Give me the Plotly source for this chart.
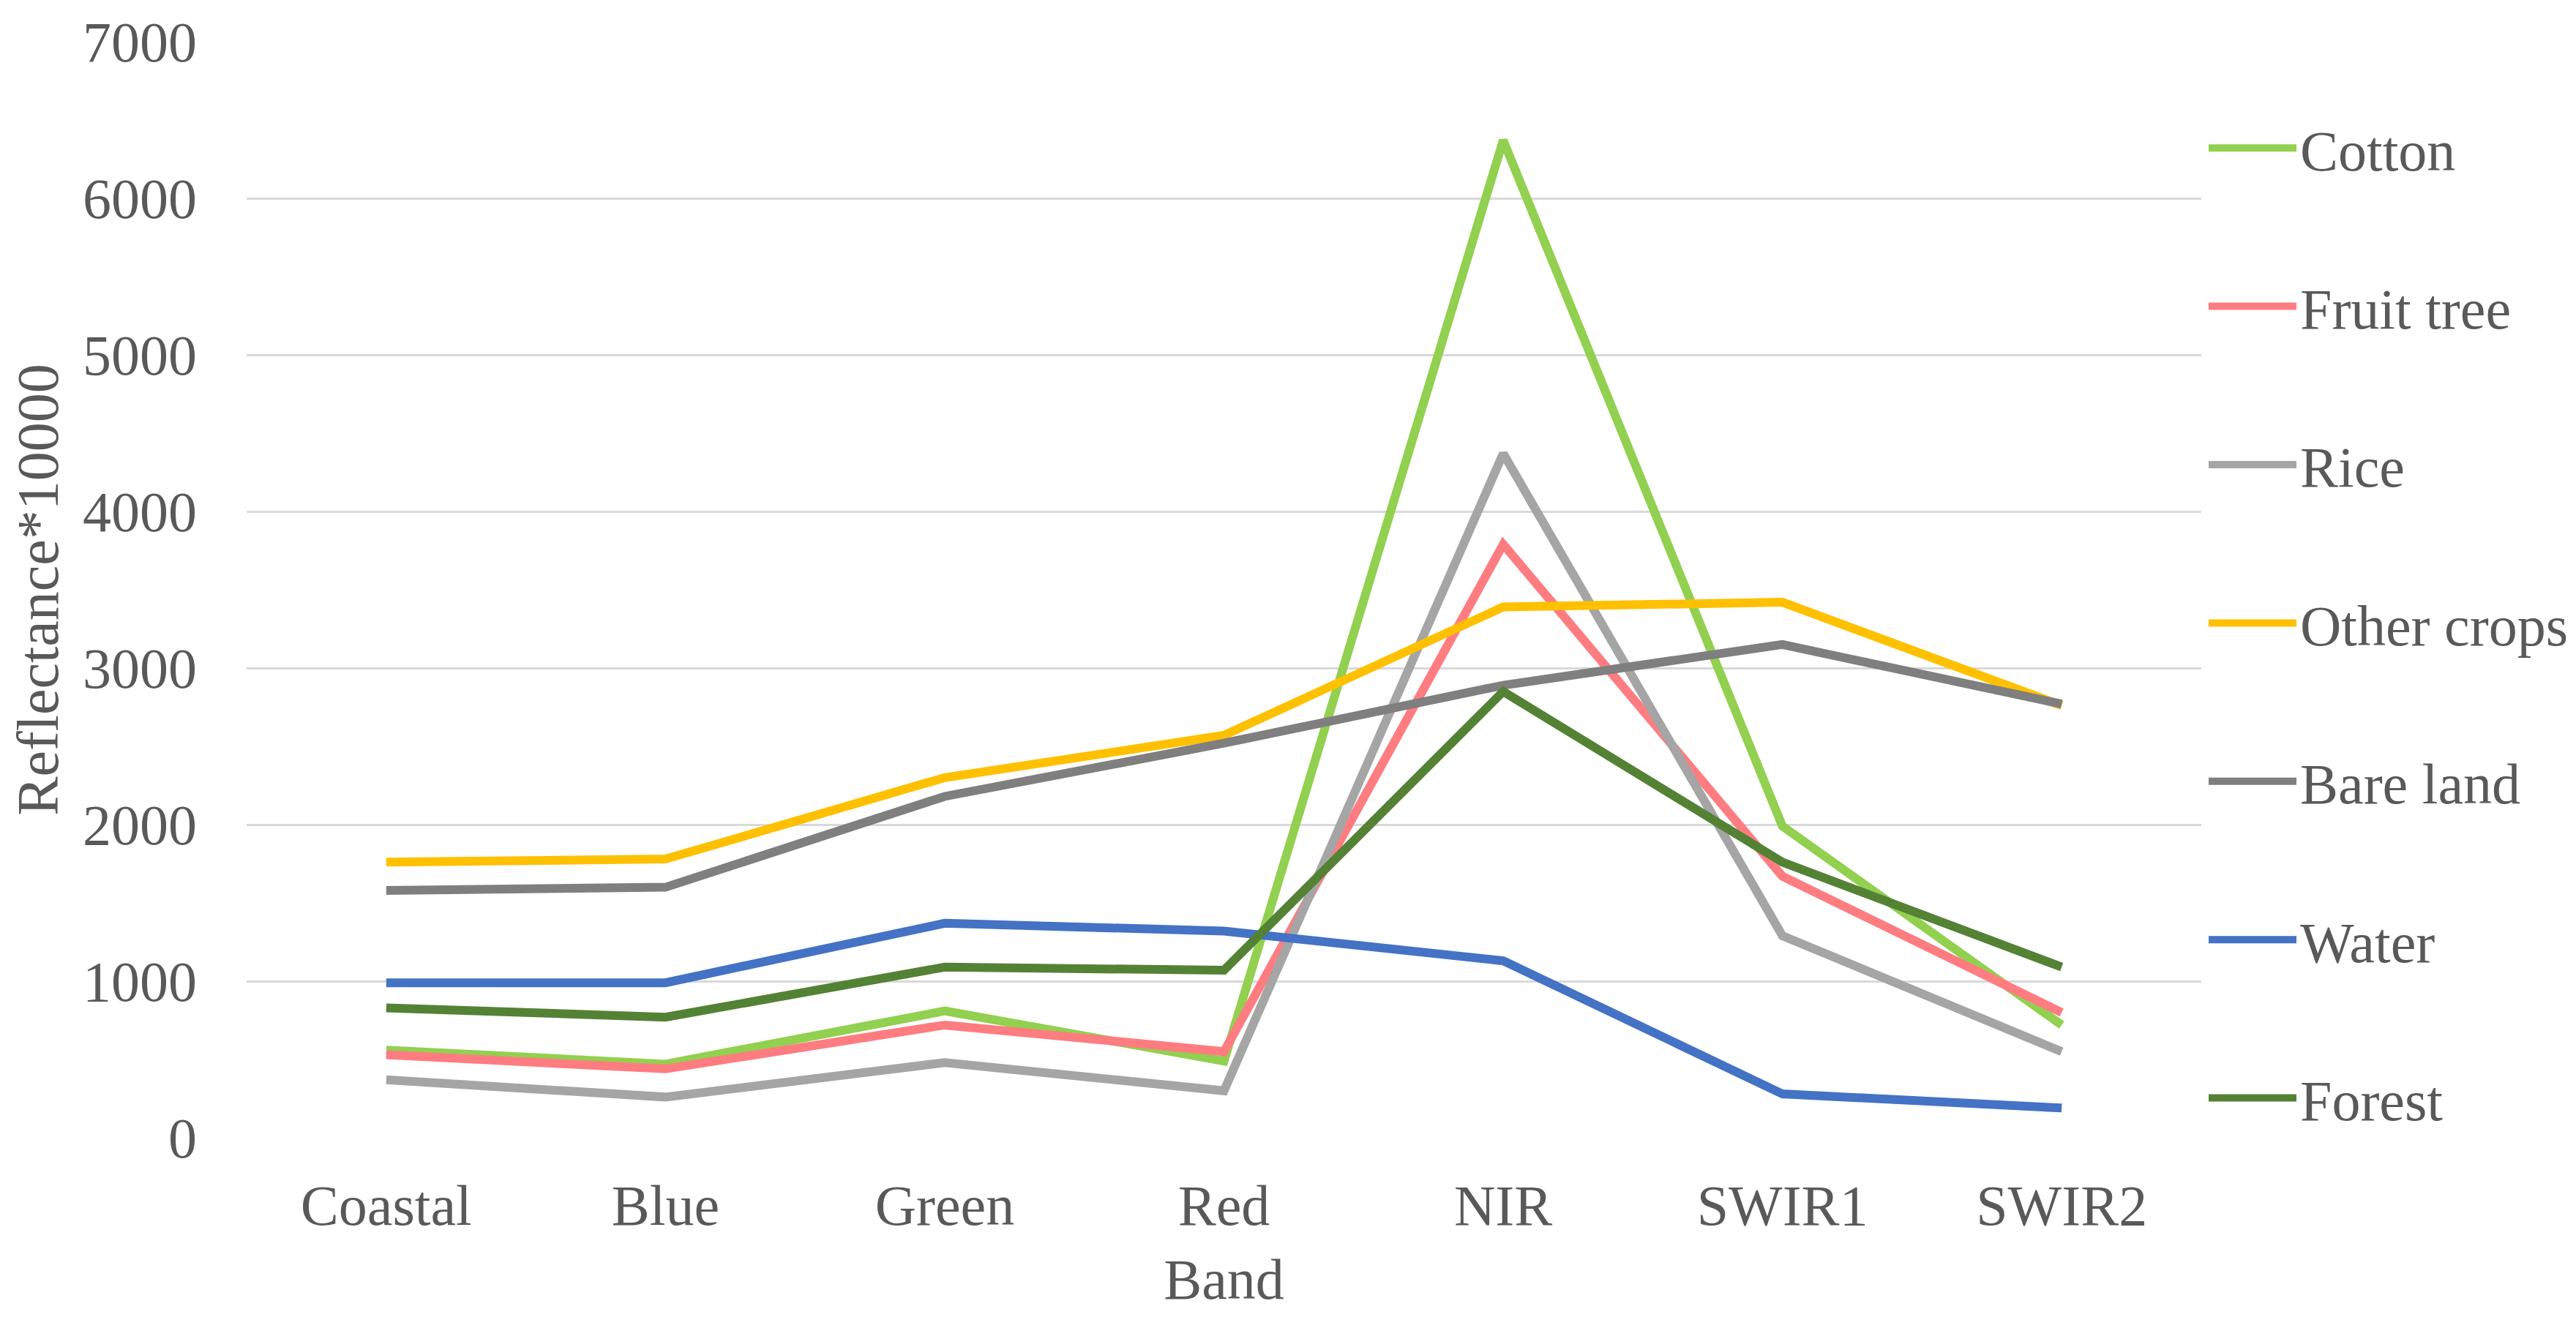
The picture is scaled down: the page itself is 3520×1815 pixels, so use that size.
import plotly.graph_objects as go

bands = ["Coastal", "Blue", "Green", "Red", "NIR", "SWIR1", "SWIR2"]

cotton = [560, 470, 810, 490, 6370, 1990, 720]
fruit_tree = [530, 440, 720, 550, 3790, 1670, 800]
rice = [370, 260, 480, 300, 4370, 1290, 550]
other_crops = [1760, 1780, 2300, 2570, 3390, 3420, 2760]
bare_land = [1580, 1600, 2180, 2520, 2890, 3150, 2770]
water = [990, 990, 1370, 1320, 1130, 280, 190]
forest = [830, 770, 1090, 1070, 2850, 1760, 1090]

series_names = ["Cotton", "Fruit tree", "Rice", "Other crops", "Bare land", "Water", "Forest"]
series_values = [cotton, fruit_tree, rice, other_crops, bare_land, water, forest]
series_colors = ["#92D050", "#FF7C80", "#A5A5A5", "#FFC000", "#7F7F7F", "#4472C4", "#548235"]

y_ticks = [0, 1000, 2000, 3000, 4000, 5000, 6000, 7000]

FONT = "serif"
TXT = "#595959"

fig = go.Figure()
for name, vals, col in zip(series_names, series_values, series_colors):
    fig.add_trace(go.Scatter(
        x=bands, y=vals, name=name, mode="lines",
        line=dict(color=col, width=12),
        legendgroup=name,
    ))

fig.update_layout(
    width=3504, height=1799,
    margin=dict(l=329, r=504, t=49, b=252, autoexpand=False),
    paper_bgcolor="white", plot_bgcolor="white",
    font=dict(family=FONT, size=78, color=TXT),
    showlegend=True,
    legend=dict(
        x=1.0 + 5 / 2671, xanchor="left", y=1.0 - 88 / 1498, yanchor="top",
        font=dict(family=FONT, size=78, color=TXT),
        tracegroupgap=112, itemwidth=120,
        bgcolor="rgba(0,0,0,0)", borderwidth=0,
    ),
    xaxis=dict(
        type="category", range=[-0.5, 6.5],
        showgrid=False, showline=False, zeroline=False, ticks="",
        tickfont=dict(family=FONT, size=78, color=TXT),
        ticklabelstandoff=40,
        title=dict(text="Band", font=dict(family=FONT, size=78, color=TXT), standoff=30),
    ),
    yaxis=dict(
        range=[0, 7000], tickvals=y_ticks,
        showgrid=True, gridcolor="#D9D9D9", gridwidth=3,
        showline=False, zeroline=False, ticks="",
        tickfont=dict(family=FONT, size=78, color=TXT),
        ticklabelstandoff=67,
        title=dict(text="Reflectance*10000", font=dict(family=FONT, size=80, color=TXT), standoff=10),
    ),
)

fig.write_html("out.html")
